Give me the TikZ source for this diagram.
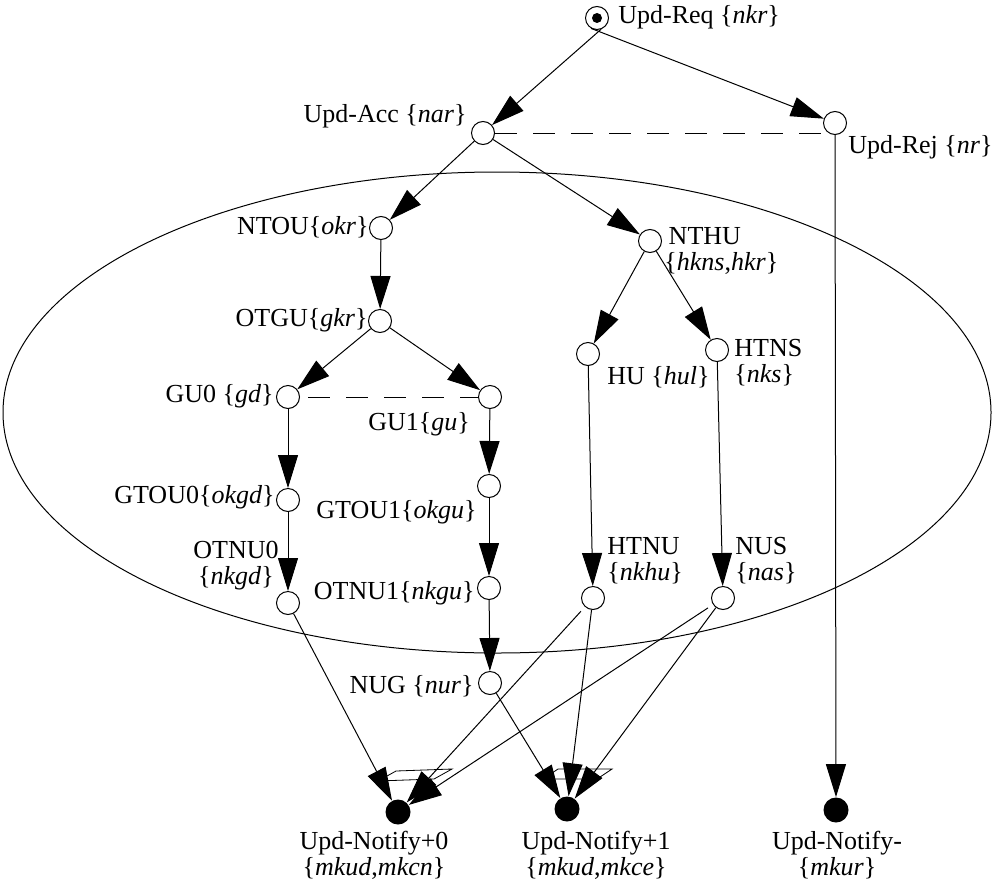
\documentclass[tikz,border=0pt]{standalone}
\usepackage{fontspec}
\setmainfont{Liberation Serif}
\usetikzlibrary{arrows.meta}
\begin{document}
\begin{tikzpicture}[x=0.5pt,y=-0.5pt,
  state/.style={circle,draw,line width=0.5pt,minimum size=11.5pt,inner sep=0pt,fill=white},
  final/.style={circle,fill=black,minimum size=12.5pt,inner sep=0pt},
  lbl/.style={inner sep=0pt,font=\fontsize{13}{13}\selectfont},
  tr/.style={-{Triangle[length=16.5pt,width=10pt]},line width=0.5pt},
  ln/.style={line width=0.5pt},
  dsh/.style={line width=0.5pt,dash pattern=on 11pt off 8pt},
  joinbar/.style={draw,fill=white,line width=0.4pt}]
\useasboundingbox (0,0) rectangle (994,888);

% enclosing region of the update sub-process
\draw[ln] (497,412.5) ellipse [x radius=247pt, y radius=120.25pt];

% states
\node[state] (start) at (597,18) {};
\fill (start.center) circle [radius=2.5pt];
\node[state] (updacc) at (483,133) {};
\node[state] (updrej) at (835,123) {};
\node[state] (ntou) at (381,228) {};
\node[state] (nthu) at (650,241) {};
\node[state] (otgu) at (380,321) {};
\node[state] (gu0) at (288,397) {};
\node[state] (gu1) at (490,397) {};
\node[state] (hu) at (588,354) {};
\node[state] (htns) at (717,350) {};
\node[state] (gtou0) at (288,500) {};
\node[state] (gtou1) at (489,486) {};
\node[state] (otnu0) at (288,603) {};
\node[state] (otnu1) at (489,588) {};
\node[state] (htnu) at (593,598) {};
\node[state] (nus) at (723,598) {};
\node[state] (nug) at (490,683) {};
\node[final] (n0) at (398,812) {};
\node[final] (n1) at (567,809) {};
\node[final] (nm) at (836,810) {};

% labels
\node[lbl,anchor=west] (lstart) at (618,17) {Upd-Req \{\textit{nkr}\}};
\node[lbl,anchor=east] (lupdacc) at (467,116) {Upd-Acc \{\textit{nar}\}};
\node[lbl,anchor=west] (lupdrej) at (848,147) {Upd-Rej \{\textit{nr}\}};
\node[lbl,anchor=east] (lntou) at (369,227) {NTOU\{\textit{okr}\}};
\node[lbl,anchor=west,align=left] (lnthu) at (664,251) {\,NTHU\\\{\textit{hkns},\textit{hkr}\}};
\node[lbl,anchor=east] (lotgu) at (368,320) {OTGU\{\textit{gkr}\}};
\node[lbl,anchor=east] (lgu0) at (274,396) {GU0 \{\textit{gd}\}};
\node[lbl] (lgu1) at (419,424) {GU1\{\textit{gu}\}};
\node[lbl,anchor=west] (lhu) at (607,377) {HU \{\textit{hul}\}};
\node[lbl,anchor=west,align=left] (lhtns) at (734,363) {HTNS\\\{\textit{nks}\}};
\node[lbl,anchor=east] (lgtou0) at (275,497) {GTOU0\{\textit{okgd}\}};
\node[lbl,anchor=east] (lgtou1) at (477,512) {GTOU1\{\textit{okgu}\}};
\node[lbl,anchor=east,align=center] (lotnu0) at (279,566) {OTNU0\\\{\textit{nkgd}\}};
\node[lbl,anchor=east] (lotnu1) at (475,593) {OTNU1\{\textit{nkgu}\}};
\node[lbl,anchor=west,align=left] (lhtnu) at (607,561) {HTNU\\\{\textit{nkhu}\}};
\node[lbl,anchor=west,align=left] (lnus) at (735,561) {NUS\\\{\textit{nas}\}};
\node[lbl,anchor=east] (lnug) at (474,686) {NUG \{\textit{nur}\}};
\node[lbl,align=center] (ln0) at (374,855) {Upd-Notify+0\\\{\textit{mkud},\textit{mkcn}\}};
\node[lbl,align=center] (ln1) at (596,855) {Upd-Notify+1\\\{\textit{mkud},\textit{mkce}\}};
\node[lbl,align=center] (lnm) at (837,855) {Upd-Notify-\\\{\textit{mkur}\}};

% transitions
\draw[tr] (start.290) -- (updacc);
\draw[tr] (start.240) -- (updrej);
\draw[dsh] (updacc.east) -- (updacc.east -| updrej.west);
\draw[tr] (updacc) -- (ntou);
\draw[tr] (updacc) -- (nthu);
\draw[tr] (ntou) -- (otgu);
\draw[tr] (otgu) -- (gu0);
\draw[tr] (otgu) -- (gu1);
\draw[dsh,dash phase=-4pt] (gu0) -- (gu1);
\draw[tr] (gu0) -- (gtou0);
\draw[tr] (gtou0) -- (otnu0);
\draw[tr] (gu1) -- (gtou1);
\draw[tr] (gtou1) -- (otnu1);
\draw[tr] (otnu1) -- (nug);
\draw[tr] (nthu) -- (hu);
\draw[tr] (nthu) -- (htns);
\draw[tr] (hu) -- (htnu);
\draw[tr] (htns) -- (nus);
\draw[tr] (updrej) -- (nm);

% join bars in front of the notify states
\path[joinbar] (378,781) -- (396,771) -- (452,769) -- (434,779) -- cycle;
\path[joinbar] (543,779) -- (558,769) -- (612,769) -- (597,779) -- cycle;

\draw[tr] (otnu0) -- (n0);
\draw[tr,shorten <=3pt] (htnu) -- (n0);
\draw[tr,shorten <=3pt] (nus) -- (n0);
\draw[tr] (nug) -- (n1);
\draw[tr] (htnu) -- (n1);
\draw[tr] (nus) -- (n1);
\end{tikzpicture}
\end{document}
